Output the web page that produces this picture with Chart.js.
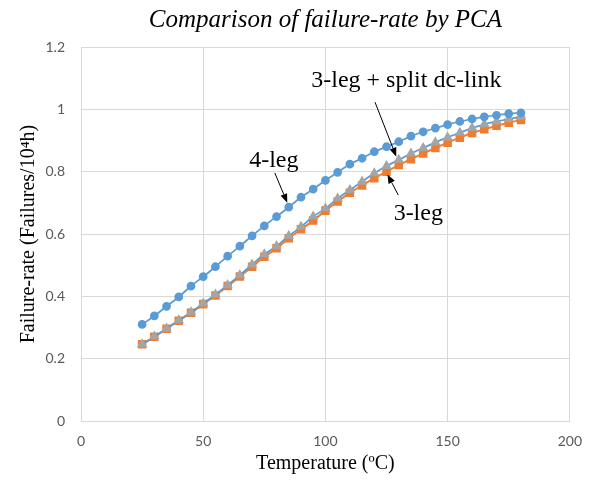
<!DOCTYPE html>
<html>
<head>
<meta charset="utf-8">
<script src="https://cdn.jsdelivr.net/npm/chart.js@4"></script>
<style>
  html, body { margin: 0; padding: 0; background: #fff; }
  #wrap { width: 594px; height: 483px; }
</style>
</head>
<body>
<div id="wrap"><canvas id="failureChart" width="594" height="483"></canvas></div>
<script>
// temperature points (degC)
const temps = [25, 30, 35, 40, 45, 50, 55, 60, 65, 70,
               75, 80, 85, 90, 95, 100, 105, 110, 115, 120,
               125, 130, 135, 140, 145, 150, 155, 160, 165, 170, 175, 180];

// failure rate, failures / 10^4 h
const fourLeg = [0.310, 0.337, 0.368, 0.398, 0.433, 0.463, 0.495, 0.529, 0.561, 0.594,
                 0.626, 0.656, 0.686, 0.718, 0.744, 0.772, 0.798, 0.824, 0.843, 0.864,
                 0.880, 0.896, 0.914, 0.928, 0.940, 0.951, 0.961, 0.969, 0.976, 0.981, 0.986, 0.989];
const threeLeg = [0.246, 0.270, 0.296, 0.322, 0.347, 0.375, 0.403, 0.433, 0.464, 0.495,
                  0.527, 0.554, 0.586, 0.615, 0.643, 0.675, 0.704, 0.732, 0.756, 0.779,
                  0.800, 0.821, 0.840, 0.858, 0.876, 0.893, 0.909, 0.924, 0.936, 0.947, 0.957, 0.966];
const threeLegSplit = [0.246, 0.271, 0.297, 0.323, 0.349, 0.377, 0.406, 0.436, 0.468, 0.502,
                       0.535, 0.561, 0.594, 0.623, 0.656, 0.682, 0.714, 0.741, 0.768, 0.795,
                       0.818, 0.838, 0.858, 0.876, 0.894, 0.910, 0.925, 0.940, 0.952, 0.961, 0.969, 0.976];

const xTicks = [0, 50, 100, 150, 200];
const yTicks = [0, 0.2, 0.4, 0.6, 0.8, 1, 1.2];

// callout labels (data units) and their arrows
const calloutText = ['4-leg', '3-leg + split dc-link', '3-leg'];
const calloutX = [78.9, 133.1, 138];
const calloutY = [0.816, 1.0725, 0.645];
const arrowFrom = [[79.3, 0.796], [120.3, 1.023], [129.8, 0.725]];
const arrowTo = [[84.4, 0.700], [129.0, 0.848], [125.4, 0.791]];

const toXY = (ys) => ys.map((y, i) => ({ x: temps[i], y: y }));

const calloutPlugin = {
    id: 'callouts',
    afterDatasetsDraw(chart) {
        const { ctx, scales: { x, y } } = chart;
        ctx.save();
        ctx.fillStyle = '#000';
        ctx.strokeStyle = '#000';
        ctx.font = '24px "Liberation Serif", "Times New Roman", serif';
        ctx.textAlign = 'center';
        ctx.textBaseline = 'alphabetic';
        calloutText.forEach((t, i) => {
            ctx.fillText(t, x.getPixelForValue(calloutX[i]), y.getPixelForValue(calloutY[i]));
        });
        ctx.lineWidth = 1;
        arrowFrom.forEach((f, i) => {
            const x1 = x.getPixelForValue(f[0]), y1 = y.getPixelForValue(f[1]);
            const x2 = x.getPixelForValue(arrowTo[i][0]), y2 = y.getPixelForValue(arrowTo[i][1]);
            const a = Math.atan2(y2 - y1, x2 - x1);
            const head = 9, half = 3.5;
            const bx = x2 - head * Math.cos(a), by = y2 - head * Math.sin(a);
            ctx.beginPath();
            ctx.moveTo(x1, y1);
            ctx.lineTo(bx, by);
            ctx.stroke();
            ctx.beginPath();
            ctx.moveTo(x2, y2);
            ctx.lineTo(bx + half * Math.sin(a), by - half * Math.cos(a));
            ctx.lineTo(bx - half * Math.sin(a), by + half * Math.cos(a));
            ctx.closePath();
            ctx.fill();
        });
        // chart title
        ctx.font = 'italic 25px "Liberation Serif", "Times New Roman", serif';
        ctx.fillText('Comparison of failure-rate by PCA', (chart.chartArea.left + chart.chartArea.right) / 2, 27);
        ctx.restore();
    }
};

const ctx = document.getElementById('failureChart').getContext('2d');
new Chart(ctx, {
    type: 'scatter',
    data: {
        datasets: [{
            label: '3-leg + split dc-link',
            data: toXY(threeLegSplit),
            showLine: true,
            borderColor: '#5B9BD5',
            borderWidth: 1.75,
            backgroundColor: '#A5A5A5',
            pointBackgroundColor: '#A5A5A5',
            pointBorderColor: '#A5A5A5',
            pointStyle: 'triangle',
            pointRadius: 4.3,
            cubicInterpolationMode: 'monotone',
            order: 1
        }, {
            label: '3-leg',
            data: toXY(threeLeg),
            showLine: true,
            borderColor: '#ED7D31',
            borderWidth: 2,
            backgroundColor: '#ED7D31',
            pointBackgroundColor: '#ED7D31',
            pointBorderColor: '#ED7D31',
            pointStyle: 'rect',
            pointRadius: 4.6,
            cubicInterpolationMode: 'monotone',
            order: 2
        }, {
            label: '4-leg',
            data: toXY(fourLeg),
            showLine: true,
            borderColor: '#5B9BD5',
            borderWidth: 1.75,
            backgroundColor: '#5B9BD5',
            pointBackgroundColor: '#5B9BD5',
            pointBorderColor: '#5B9BD5',
            pointStyle: 'circle',
            pointRadius: 3.5,
            cubicInterpolationMode: 'monotone',
            order: 0
        }]
    },
    options: {
        responsive: false,
        animation: false,
        layout: { padding: { top: 47, right: 16, left: 0, bottom: 0 } },
        plugins: {
            legend: { display: false },
            tooltip: { enabled: false }
        },
        scales: {
            x: {
                type: 'linear',
                min: 0,
                max: 200,
                afterBuildTicks: (s) => { s.ticks = xTicks.map(v => ({ value: v })); },
                afterFit: (s) => { s.height = 62; },
                ticks: {
                    color: '#595959', font: { family: 'Lato', size: 14 }, padding: 12,
                    callback: (v) => String(v)
                },
                grid: { color: '#d9d9d9', drawTicks: false },
                border: { color: '#d9d9d9' },
                title: {
                    display: true,
                    text: 'Temperature (ºC)',
                    color: '#000',
                    font: { family: '"Liberation Serif"', size: 20 },
                    padding: { top: 0, bottom: 7 }
                }
            },
            y: {
                min: 0,
                max: 1.2,
                afterBuildTicks: (s) => { s.ticks = yTicks.map(v => ({ value: v })); },
                afterFit: (s) => { s.width = 81; },
                ticks: {
                    color: '#595959', font: { family: 'Lato', size: 14 }, padding: 16,
                    callback: (v) => String(v)
                },
                grid: { color: '#d9d9d9', drawTicks: false },
                border: { color: '#d9d9d9' },
                title: {
                    display: true,
                    text: 'Failure-rate (Failures/10⁴h)',
                    color: '#000',
                    font: { family: '"Liberation Serif"', size: 20 },
                    padding: { top: 17, bottom: 0 }
                }
            }
        }
    },
    plugins: [calloutPlugin]
});
</script>
</body>
</html>
